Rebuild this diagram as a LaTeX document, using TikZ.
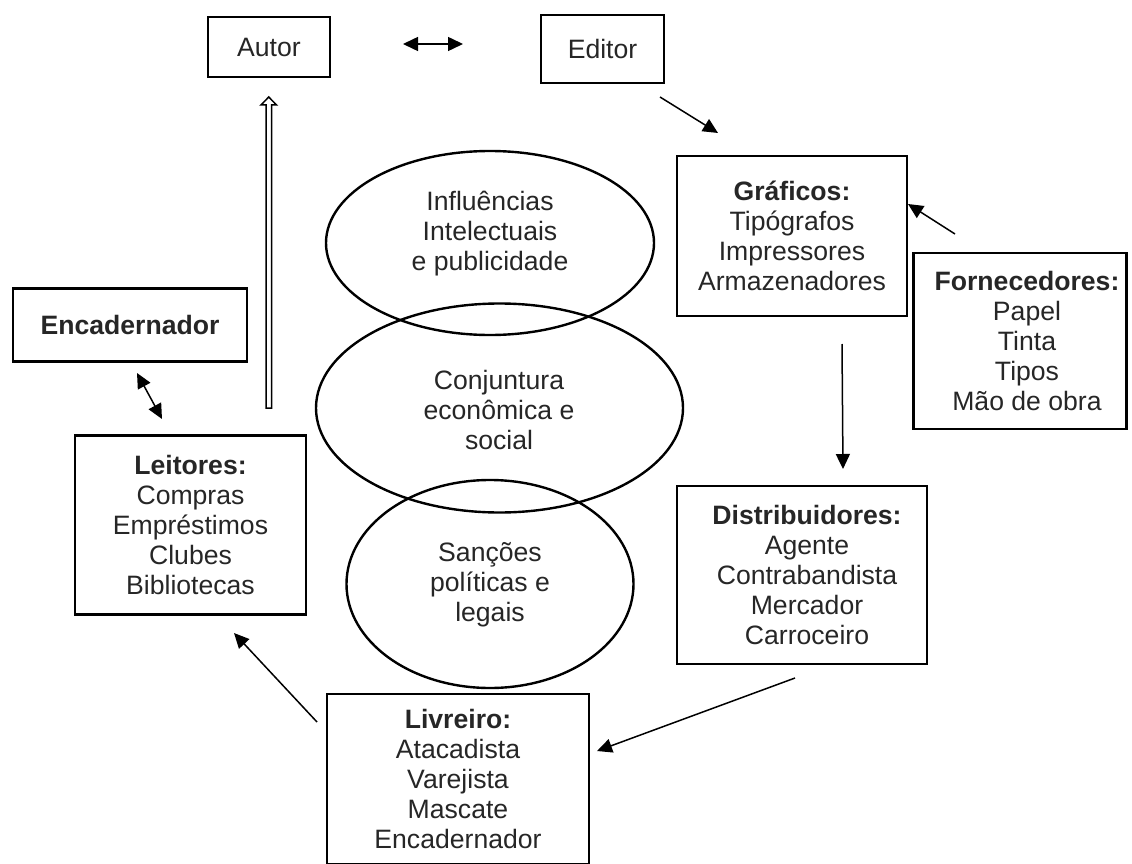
\documentclass[tikz,border=0pt]{standalone}
\usepackage{fontspec}
\setmainfont{Liberation Sans}
\usetikzlibrary{arrows.meta,shapes.geometric,calc}
\definecolor{txtc}{RGB}{38,38,38}
\begin{document}
\begin{tikzpicture}[x=1pt,y=-1pt,
  box/.style={draw=black, line width=2.8pt, inner sep=0pt, align=center, text=txtc, font=\fontsize{26.6}{30}\selectfont},
  ell/.style={draw=black, ellipse, line width=2.4pt, inner sep=0pt},
  txt/.style={align=center, text=txtc, font=\fontsize{26.6}{30}\selectfont, inner sep=0pt},
  arr/.style={line width=1.5pt, -{Triangle[length=15pt,width=14pt]}},
  darr/.style={line width=1.5pt, {Triangle[length=15pt,width=14pt]}-{Triangle[length=15pt,width=14pt]}},
  hollow/.style={draw=black, line width=1.5pt, fill=white, line join=miter}]
\useasboundingbox (0,0) rectangle (1132,864);

% boxes
\node[box, minimum width=122pt, minimum height=60pt] (autor) at (269,47) {Autor};
\node[box, minimum width=123pt, minimum height=68pt] (editor) at (602.5,49) {Editor};
\node[box, minimum width=230pt, minimum height=160pt] (graf) at (792,236)
  {\textbf{Gráficos:}\\Tipógrafos\\Impressores\\Armazenadores};
\node[box, minimum width=213pt, minimum height=176pt] (forn) at (1020,341) {};
\node[txt] (fornt) at (1027,341) {\textbf{Fornecedores:}\\Papel\\Tinta\\Tipos\\Mão de obra};
\node[box, minimum width=250pt, minimum height=178pt] (dist) at (802,575) {};
\node[txt] (distt) at (807,575) {\textbf{Distribuidores:}\\Agente\\Contrabandista\\Mercador\\Carroceiro};
\node[box, minimum width=262pt, minimum height=170pt] (livr) at (458,779)
  {\textbf{Livreiro:}\\Atacadista\\Varejista\\Mascate\\Encadernador};
\node[box, minimum width=231pt, minimum height=179pt] (leit) at (190.5,525)
  {\textbf{Leitores:}\\Compras\\Empréstimos\\Clubes\\Bibliotecas};
\node[box, minimum width=234pt, minimum height=73pt] (encad) at (130,325) {\textbf{Encadernador}};

% ellipses
\node[ell, minimum width=328pt, minimum height=184pt] (e1) at (490,243) {};
\node[txt] (e1t) at (490,234) {Influências\\Intelectuais\\e publicidade};
\node[ell, minimum width=367pt, minimum height=209pt] (e2) at (499.5,408) {};
\node[txt] (e2t) at (499,410) {Conjuntura\\econômica e\\social};
\node[ell, minimum width=287pt, minimum height=208pt] (e3) at (490,584) {};
\node[txt] (e3t) at (490,585) {Sanções\\políticas e\\legais};

% connector end points
\coordinate (ae1) at (403,44);
\coordinate (ae2) at (463,44);
\coordinate (eg1) at (660,97);
\coordinate (eg2) at (718,133);
\coordinate (fg1) at (955,234);
\coordinate (fg2) at (908,204);
\coordinate (gd1) at (842,344);
\coordinate (gd2) at (843,469);
\coordinate (dl1) at (795,678);
\coordinate (dl2) at (597,751);
\coordinate (ll1) at (317,722);
\coordinate (ll2) at (234,633);
\coordinate (el1) at (137,373);
\coordinate (el2) at (162,419);

\draw[darr] (ae1) -- (ae2);
\draw[arr] (eg1) -- (eg2);
\draw[arr] (fg1) -- (fg2);
\draw[arr] (gd1) -- (gd2);
\draw[arr] (dl1) -- (dl2);
\draw[arr] (ll1) -- (ll2);
\draw[darr] (el1) -- (el2);

% hollow arrow from Leitores up to Autor
\draw[hollow] (266,408) -- (271.5,408) -- (271.5,105) -- (276.5,105) -- (268.75,97)
  -- (261,105) -- (266,105) -- cycle;
\end{tikzpicture}
\end{document}
